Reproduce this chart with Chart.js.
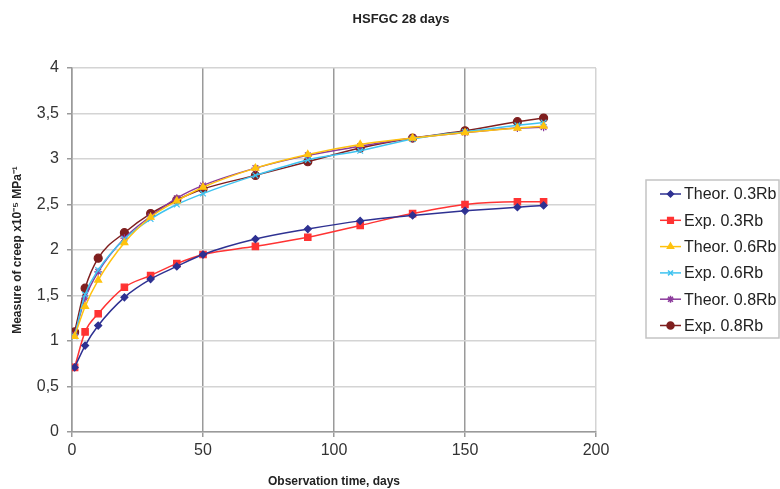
<!DOCTYPE html>
<html>
<head>
<meta charset="utf-8">
<script src="https://cdn.jsdelivr.net/npm/chart.js@4"></script>
<style>
  html, body { margin: 0; padding: 0; background: #fff; }
  #wrap { width: 780px; height: 489px; }
</style>
</head>
<body>
<div id="wrap"><canvas id="creepChart" width="780" height="489"></canvas></div>
<script>
const days = [1, 5, 10, 20, 30, 40, 50, 70, 90, 110, 130, 150, 170, 180];
const theor03 = [0.71, 0.95, 1.17, 1.48, 1.68, 1.82, 1.95, 2.12, 2.23, 2.32, 2.38, 2.43, 2.47, 2.49];
const exp03 = [0.71, 1.10, 1.30, 1.59, 1.72, 1.85, 1.95, 2.04, 2.14, 2.27, 2.40, 2.50, 2.53, 2.53];
const theor06 = [1.05, 1.38, 1.67, 2.08, 2.36, 2.54, 2.69, 2.90, 3.05, 3.16, 3.23, 3.29, 3.34, 3.36];
const exp06 = [1.05, 1.51, 1.78, 2.12, 2.34, 2.50, 2.62, 2.82, 2.99, 3.09, 3.22, 3.30, 3.37, 3.40];
const theor08 = [1.07, 1.47, 1.76, 2.13, 2.37, 2.57, 2.71, 2.90, 3.04, 3.14, 3.23, 3.29, 3.34, 3.35];
const exp08 = [1.10, 1.58, 1.91, 2.19, 2.40, 2.55, 2.67, 2.82, 2.97, 3.12, 3.23, 3.31, 3.41, 3.45];

const seriesNames = ['Theor. 0.3Rb', 'Exp. 0.3Rb', 'Theor. 0.6Rb', 'Exp. 0.6Rb', 'Theor. 0.8Rb', 'Exp. 0.8Rb'];
const xTicks = [0, 50, 100, 150, 200];
const yTicks = [0, 0.5, 1, 1.5, 2, 2.5, 3, 3.5, 4];
const chartTitle = 'HSFGC 28 days';

const font = '"Liberation Sans", Arial, sans-serif';

function pts(values) {
    return days.map((d, i) => ({ x: d, y: values[i] }));
}

function series(label, values, color, style, radius) {
    return {
        label: label,
        data: pts(values),
        borderColor: color,
        backgroundColor: color,
        borderWidth: 1.5,
        pointStyle: style,
        pointRadius: radius,
        pointBorderWidth: 1.2,
        cubicInterpolationMode: 'monotone'
    };
}

// title over the whole picture and a legend in a bordered box, like the original
const boxLegend = {
    id: 'boxLegend',
    afterDraw(chart) {
        const ctx = chart.ctx;
        ctx.save();
        ctx.fillStyle = '#222';
        ctx.font = 'bold 13px ' + font;
        ctx.textAlign = 'center';
        ctx.textBaseline = 'middle';
        ctx.fillText(chartTitle, 401, 19);

        ctx.textAlign = 'left';
        ctx.strokeStyle = '#c4c4c4';
        ctx.lineWidth = 1.5;
        ctx.strokeRect(646, 180, 133, 158);
        chart.data.datasets.forEach((ds, i) => {
            const y = 194 + i * 26.3;
            ctx.strokeStyle = ds.borderColor;
            ctx.fillStyle = ds.backgroundColor;
            ctx.lineWidth = 1.5;
            ctx.beginPath();
            ctx.moveTo(660, y);
            ctx.lineTo(681, y);
            ctx.stroke();
            Chart.helpers.drawPoint(ctx, { pointStyle: ds.pointStyle, radius: ds.pointRadius - 0.5, borderWidth: 1 }, 670.5, y);
            ctx.fillStyle = '#222';
            ctx.font = '16px ' + font;
            ctx.textBaseline = 'middle';
            ctx.fillText(ds.label, 684, y + 1);
        });
        ctx.restore();
    }
};

const ctx = document.getElementById('creepChart').getContext('2d');
new Chart(ctx, {
    type: 'line',
    data: {
        datasets: [
            series(seriesNames[0], theor03, '#2e3192', 'rectRot', 3.5),
            series(seriesNames[1], exp03, '#ff3333', 'rect', 4.5),
            series(seriesNames[2], theor06, '#ffc20e', 'triangle', 4),
            series(seriesNames[3], exp06, '#3fc3f0', 'crossRot', 4),
            series(seriesNames[4], theor08, '#8b3a9b', 'star', 4),
            series(seriesNames[5], exp08, '#7f1f1f', 'circle', 4)
        ]
    },
    plugins: [boxLegend],
    options: {
        responsive: false,
        animation: false,
        layout: { padding: { left: 0, right: 184, top: 68, bottom: 0 } },
        plugins: {
            legend: { display: false },
            tooltip: { enabled: false },
            title: { display: false }
        },
        scales: {
            x: {
                type: 'linear',
                min: 0,
                max: 200,
                afterFit(scale) { scale.height = 57; },
                afterBuildTicks(scale) { scale.ticks = xTicks.map(v => ({ value: v })); },
                ticks: {
                    color: '#333',
                    font: { family: font, size: 16 },
                    padding: 4
                },
                grid: {
                    color: c => (c.tick && c.tick.value === 200) ? '#d4d4d4' : '#9a9a9a',
                    lineWidth: 1.5,
                    tickLength: 5,
                    tickColor: '#9a9a9a'
                },
                border: { color: '#9a9a9a', width: 1.5 },
                title: {
                    display: true,
                    text: 'Observation time, days',
                    color: '#222',
                    font: { family: font, size: 12, weight: 'bold' },
                    padding: { top: 0, bottom: 0 }
                }
            },
            y: {
                min: 0,
                max: 4,
                afterFit(scale) { scale.width = 72; },
                afterBuildTicks(scale) { scale.ticks = yTicks.map(v => ({ value: v })); },
                ticks: {
                    color: '#333',
                    font: { family: font, size: 16 },
                    padding: 8,
                    callback: v => String(v).replace('.', ',')
                },
                grid: {
                    color: '#d4d4d4',
                    lineWidth: 1.5,
                    tickLength: 5,
                    tickColor: '#9a9a9a'
                },
                border: { color: '#9a9a9a', width: 1.5 },
                title: {
                    display: true,
                    text: 'Measure of creep x10\u207B\u2075 MPa\u207B\u00B9',
                    color: '#222',
                    font: { family: font, size: 12, weight: 'bold' },
                    padding: { top: 10, bottom: 0 }
                }
            }
        }
    }
});
</script>
</body>
</html>
